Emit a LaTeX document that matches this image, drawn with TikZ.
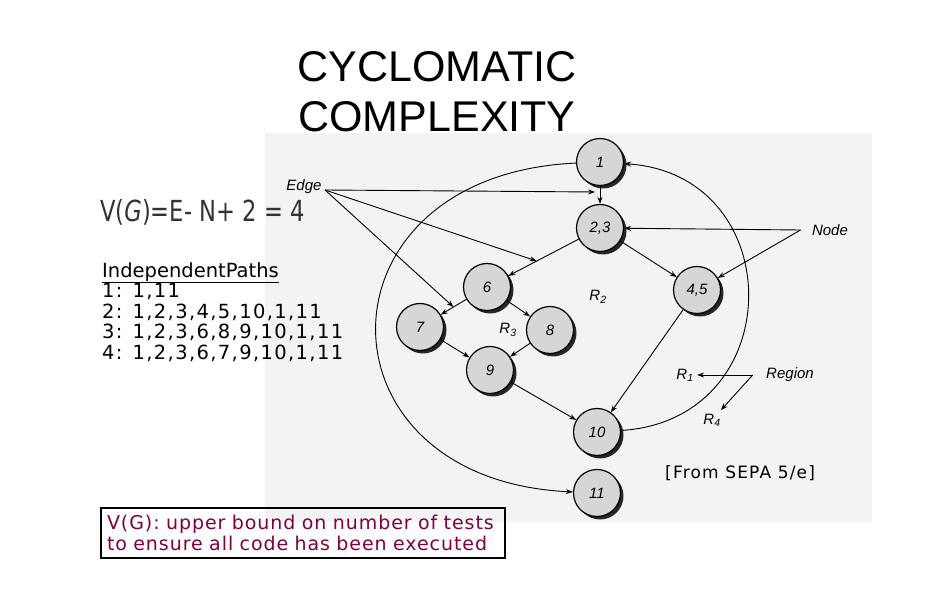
\documentclass[tikz,border=0pt]{standalone}
\usepackage{fontspec}
\usepackage{graphicx}
\setmainfont{DejaVu Sans}
\newfontfamily\titlefont{Liberation Sans}
\newfontfamily\graphfont{Liberation Sans}
\usetikzlibrary{shadows,calc,arrows.meta}

\definecolor{boundred}{RGB}{128,0,64}
\definecolor{scangray}{RGB}{243,243,243}
\newcommand*{\spaced}{\addfontfeature{LetterSpace=7}}

\begin{document}
\begin{tikzpicture}
[
	x=1pt, y=-1pt,
	>={Stealth[length=7pt,width=5pt]},
	flownode/.style={circle,draw,line width=1.2pt,fill=black!16,minimum size=47pt,inner sep=0pt,
		font=\graphfont\itshape\fontsize{15}{15}\selectfont,
		drop shadow={shadow xshift=3pt,shadow yshift=-3pt,fill=black!85,opacity=1}},
	flowedge/.style={->,line width=0.9pt},
	callout/.style={->,line width=0.9pt},
	tag/.style={font=\graphfont\itshape\fontsize{15}{15}\selectfont},
]
	\useasboundingbox (0,0) rectangle (935,612);

	% scanned page
	\fill[scangray] (265,133) rectangle (872,522);

	% title and text
	\node[anchor=north,align=center,inner sep=0pt,font=\titlefont\fontsize{43}{50}\selectfont] (title) at (437,51) {CYCLOMATIC\\COMPLEXITY};
	\node[anchor=base west,inner sep=0pt,text=black!80] (vg) at (100,222) {\scalebox{0.78}[1]{\fontsize{29}{29}\selectfont V(\textit{G})=E- N+ 2 = 4}};
	\node[anchor=north west,align=left,inner sep=0pt,font=\fontsize{19.5}{20.5}\selectfont] (paths) at (102,262)
		{\underline{IndependentPaths}\\{\spaced 1: 1,11}\\{\spaced 2: 1,2,3,4,5,10,1,11}\\{\spaced 3: 1,2,3,6,8,9,10,1,11}\\{\spaced 4: 1,2,3,6,7,9,10,1,11}};
	\node[anchor=base west,inner sep=0pt,font=\spaced\fontsize{17}{17}\selectfont] (source) at (665,478) {[From SEPA 5/e]};
	\node[draw,line width=2pt,anchor=north west,text width=392pt,inner xsep=6pt,inner ysep=7pt,align=left,
		text=boundred,font=\addfontfeature{LetterSpace=5}\fontsize{19}{21}\selectfont] (bound) at (100,507)
		{V(G): upper bound on number of tests\\to ensure all code has been executed};

	% flow graph
	\node[flownode] (n1) at (600,162) {1};
	\node[flownode] (n23) at (600,228) {2,3};
	\node[flownode] (n6) at (487,287) {6};
	\node[flownode] (n45) at (697,290) {4,5};
	\node[flownode] (n7) at (420,327) {7};
	\node[flownode] (n8) at (550,330) {8};
	\node[flownode] (n9) at (490,370) {9};
	\node[flownode] (n10) at (597,432) {10};
	\node[flownode] (n11) at (597,493) {11};

	\draw[flowedge] (n1) -- (n23);
	\draw[flowedge] (n23) -- (n6);
	\draw[flowedge] (n23) -- (n45);
	\draw[flowedge] (n6) -- (n7);
	\draw[flowedge] (n6) -- (n8);
	\draw[flowedge] (n7) -- (n9);
	\draw[flowedge] (n8) -- (n9);
	\draw[flowedge] (n9) -- (n10);
	\draw[flowedge] (n45) -- (n10);
	\draw[flowedge] (n10) .. controls (790,420) and (790,175) .. (n1);
	\draw[flowedge] (n1) .. controls (310,175) and (310,480) .. (n11);

	% regions
	\node[tag] (r1) at (685,375) {R\textsubscript{1}};
	\node[tag] (r2) at (598,297) {R\textsubscript{2}};
	\node[tag] (r3) at (508,330) {R\textsubscript{3}};
	\node[tag] (r4) at (712,420) {R\textsubscript{4}};

	% callouts
	\node[tag] (edge) at (304,187) {Edge};
	\node[tag] (nodelbl) at (830,230) {Node};
	\node[tag] (region) at (790,375) {Region};

	\coordinate (edgefrom) at ($(edge.east)+(0,3)$);
	\coordinate (e1) at ($(n1)!0.5!(n23)+(-5,-3)$);
	\coordinate (e2) at ($(n23)!0.56!(n6)$);
	\coordinate (e3) at ($(n6)!0.5!(n7)$);
	\draw[callout] (edgefrom) -- (e1);
	\draw[callout] (edgefrom) -- (e2);
	\draw[callout] (edgefrom) -- (e3);

	\coordinate (nodefrom) at ($(nodelbl.west)+(-8,0)$);
	\draw[callout] (nodefrom) -- (n23);
	\draw[callout] (nodefrom) -- (n45);

	\coordinate (regionfrom) at ($(region.west)+(-10,0)$);
	\draw[callout] (regionfrom) -- (r1);
	\draw[callout] (regionfrom) -- (r4);

\end{tikzpicture}
\end{document}
